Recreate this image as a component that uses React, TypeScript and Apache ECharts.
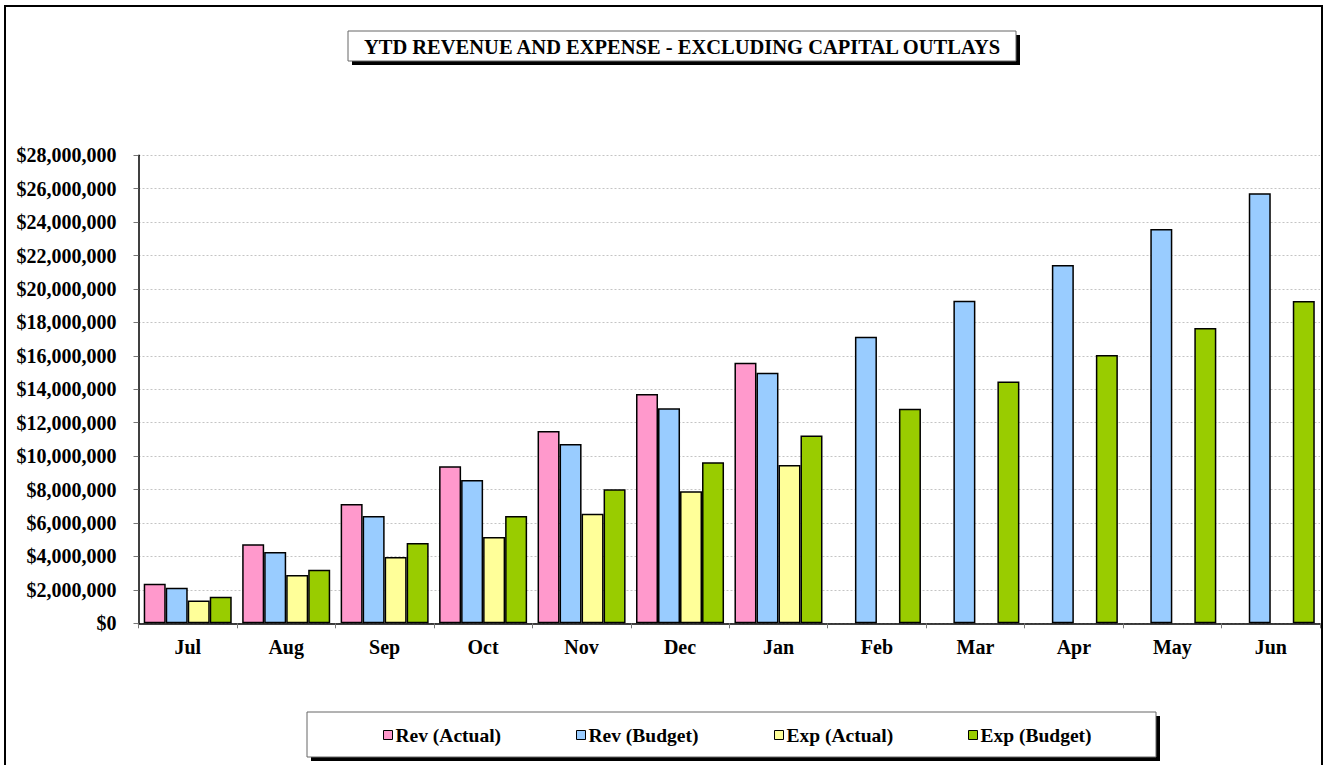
import React, { useEffect, useRef } from "react";
import * as echarts from "echarts";

const months = ["Jul", "Aug", "Sep", "Oct", "Nov", "Dec", "Jan", "Feb", "Mar", "Apr", "May", "Jun"];
const revActual = [2370000, 4730000, 7140000, 9390000, 11500000, 13720000, 15590000, null, null, null, null, null];
const revBudget = [2130000, 4270000, 6420000, 8570000, 10730000, 12860000, 14990000, 17150000, 19300000, 21440000, 23590000, 25730000];
const expActual = [1370000, 2890000, 3970000, 5160000, 6560000, 7900000, 9470000, null, null, null, null, null];
const expBudget = [1590000, 3210000, 4800000, 6420000, 8020000, 9630000, 11230000, 12840000, 14460000, 16050000, 17670000, 19280000];
const seriesNames = ["Rev (Actual)", "Rev (Budget)", "Exp (Actual)", "Exp (Budget)"];
const seriesColors = ["#FF99CC", "#99CCFF", "#FFFF99", "#99CC00"];
const yMin = 0;
const yMax = 28000000;
const yStep = 2000000;
const titleText = "YTD REVENUE AND EXPENSE - EXCLUDING CAPITAL OUTLAYS";

const FONT = "'Liberation Serif', 'Times New Roman', serif";

export default function App() {
  const ref = useRef<HTMLDivElement>(null);
  useEffect(() => {
    document.body.style.margin = "0";
    const chart = echarts.init(ref.current!, null, { renderer: "svg" });
    const data = [revActual, revBudget, expActual, expBudget];
    const legendLefts = [383, 576, 774, 968];
    const option: any = {
      animation: false,
      backgroundColor: "#fff",
      grid: { left: 138.5, right: 4, top: 155.3, bottom: 141.7, containLabel: false },
      xAxis: {
        type: "category",
        data: months,
        boundaryGap: true,
        axisLine: { lineStyle: { color: "#000", width: 1.5 } },
        axisTick: { show: true, length: 5, lineStyle: { color: "#777" } },
        axisLabel: { margin: 14, color: "#000", fontFamily: FONT, fontWeight: "bold", fontSize: 20 },
        splitLine: { show: false },
      },
      yAxis: {
        type: "value",
        min: yMin,
        max: yMax,
        interval: yStep,
        axisLine: { show: true, lineStyle: { color: "#000", width: 1.5 } },
        axisTick: { show: true, length: 5, lineStyle: { color: "#777" } },
        axisLabel: {
          margin: 22,
          color: "#000",
          fontFamily: FONT,
          fontWeight: "bold",
          fontSize: 20,
          formatter: (v: number) => "$" + v.toLocaleString("en-US"),
        },
        splitLine: { show: true, lineStyle: { color: "#c4c4c4", width: 1, type: [2, 2] } },
      },
      legend: seriesNames.map((n, i) => ({
        data: [n],
        left: legendLefts[i],
        top: 725,
        padding: 0,
        itemWidth: 9,
        itemHeight: 9,
        icon: "rect",
        itemStyle: { borderColor: "#000", borderWidth: 1 },
        textStyle: { fontFamily: FONT, fontWeight: "bold", fontSize: 19.5, color: "#000", padding: [0, 0, 0, -2] },
        selectedMode: false,
      })),
      graphic: [
        { type: "rect", shape: { x: 5, y: 6, width: 1317, height: 820 }, style: { fill: "none", stroke: "#000", lineWidth: 2 }, z: 100 },
        { type: "rect", shape: { x: 352, y: 35, width: 668, height: 30 }, style: { fill: "#000" }, z: 100 },
        { type: "rect", shape: { x: 348, y: 31, width: 668, height: 30 }, style: { fill: "#fff", stroke: "#666", lineWidth: 1 }, z: 101 },
        {
          type: "text",
          x: 682,
          y: 46.5,
          style: { text: titleText, fontFamily: FONT, fontWeight: "bold", fontSize: 20.5, fill: "#000", align: "center", verticalAlign: "middle" },
          z: 102,
        },
        { type: "rect", shape: { x: 311, y: 716, width: 849, height: 45 }, style: { fill: "#000" }, z: 1, silent: true },
        { type: "rect", shape: { x: 307, y: 712, width: 849, height: 45 }, style: { fill: "#fff", stroke: "#666", lineWidth: 1 }, z: 2, silent: true },
      ],
      series: seriesNames.map((n, i) => ({
        name: n,
        type: "bar",
        data: data[i],
        barGap: "0%",
        barCategoryGap: "10.6%",
        itemStyle: { color: seriesColors[i], borderColor: "#000", borderWidth: 1.5 },
      })),
    };
    chart.setOption(option);
    return () => chart.dispose();
  }, []);
  return <div ref={ref} style={{ width: 1324, height: 765 }} />;
}
